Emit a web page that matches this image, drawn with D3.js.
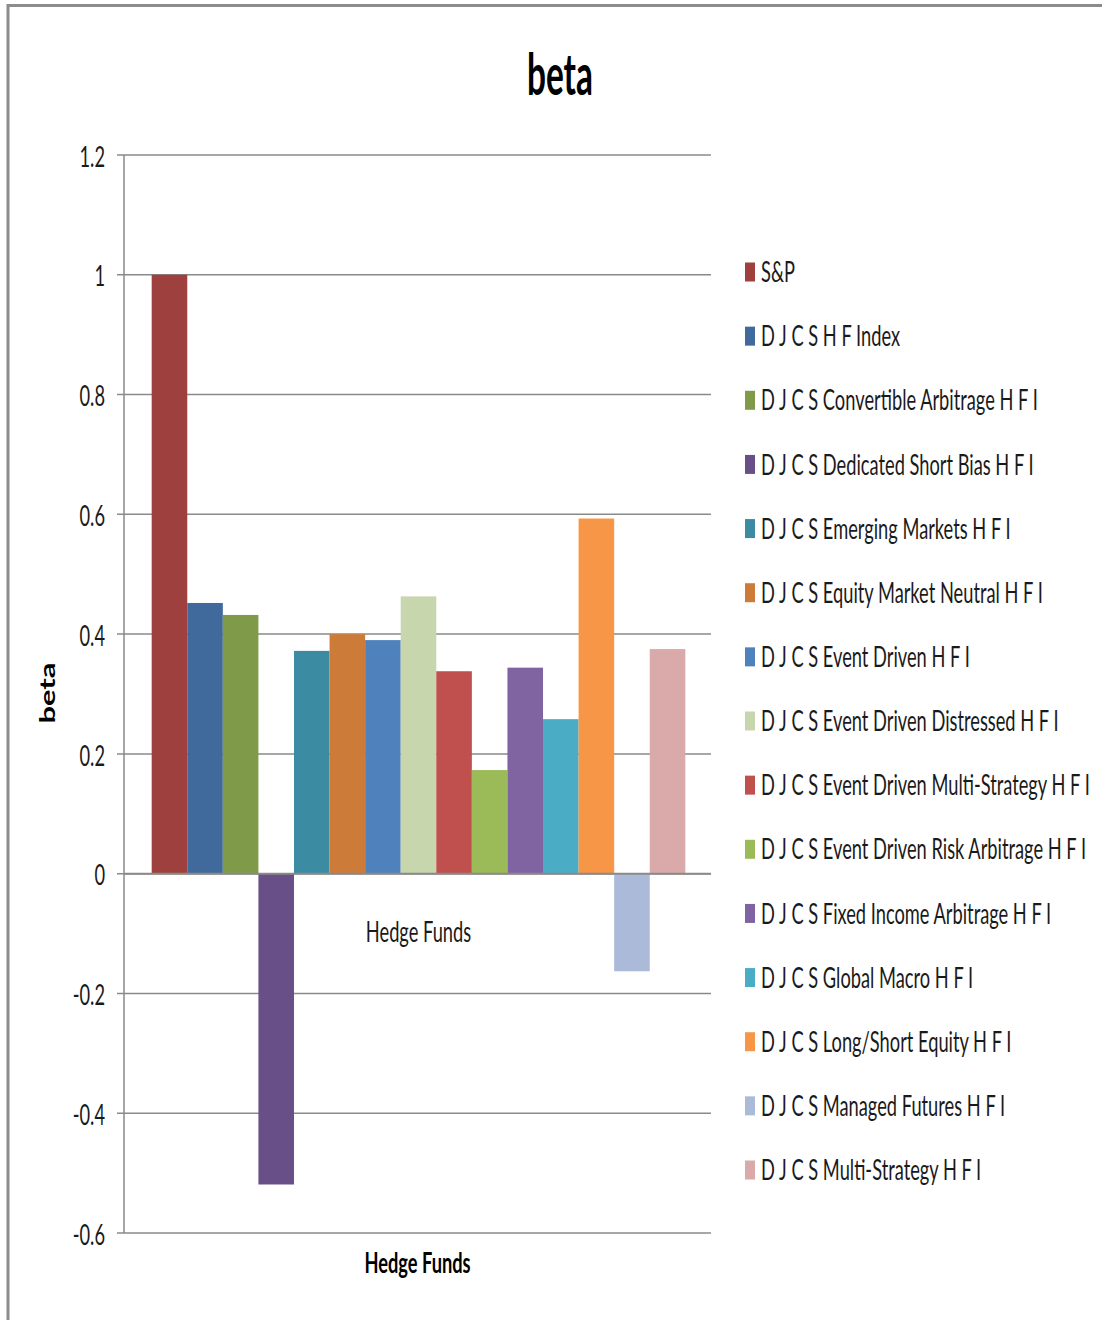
<!DOCTYPE html>
<html><head><meta charset="utf-8">
<script src="https://cdn.jsdelivr.net/npm/d3@7"></script>
<style>body{margin:0;background:#fff}svg{display:block}</style>
</head><body>
<svg id="c" width="1102" height="1320"></svg>
<script>
const chartTitle = "beta";
const yTitle = "beta";
const xTitle = "Hedge Funds";
const categories = ["Hedge Funds"];
const series = [
  "S&P",
  "D J C S H F Index",
  "D J C S Convertible Arbitrage H F I",
  "D J C S Dedicated Short Bias H F I",
  "D J C S Emerging Markets H F I",
  "D J C S Equity Market Neutral H F I",
  "D J C S Event Driven H F I",
  "D J C S Event Driven Distressed H F I",
  "D J C S Event Driven Multi-Strategy H F I",
  "D J C S Event Driven Risk Arbitrage H F I",
  "D J C S Fixed Income Arbitrage H F I",
  "D J C S Global Macro H F I",
  "D J C S Long/Short Equity H F I",
  "D J C S Managed Futures H F I",
  "D J C S Multi-Strategy H F I"
];
const values = [1.0, 0.452, 0.432, -0.519, 0.372, 0.400, 0.390, 0.463, 0.338, 0.173, 0.344, 0.258, 0.593, -0.163, 0.375];
const colors = ["#9E403D","#406A9C","#7F9A48","#694F88","#3B8BA3","#CC7B38","#4F81BD","#C7D6AC","#C0504D","#9BBB59","#8064A2","#4BACC6","#F79646","#AABAD8","#DAA9A9"];
const tickValues = [-0.6,-0.4,-0.2,0,0.2,0.4,0.6,0.8,1,1.2];
const tickLabels = ["-0.6","-0.4","-0.2","0","0.2","0.4","0.6","0.8","1","1.2"];

const svg = d3.select("#c");
const FONT = "Lato, 'Open Sans', sans-serif";
const TXT = "#1a1a1a";
const GRID = "#8a8a8a";

// chart border
svg.append("path").attr("d","M8,1320 V5.5 H1102").attr("fill","none").attr("stroke","#8c8c8c").attr("stroke-width",3);

const plot = {left:124, right:711, top:155, bottom:1233};
const y = d3.scaleLinear().domain([-0.6,1.2]).range([plot.bottom, plot.top]);
const x0 = d3.scaleBand().domain(categories).range([plot.left + 1, plot.right + 1]).padding(0);
const x1 = d3.scaleBand().domain(series).range([0, x0.bandwidth()]).paddingInner(0).paddingOuter(0.75);

// gridlines
svg.append("g").selectAll("line").data(tickValues).join("line")
  .attr("x1", plot.left-7).attr("x2", plot.right)
  .attr("y1", d=>y(d)).attr("y2", d=>y(d))
  .attr("stroke", GRID).attr("stroke-width",1.5);

// bars
const g = svg.append("g");
categories.forEach(cat=>{
  g.selectAll("rect.b").data(series).join("rect").attr("class","b")
    .attr("x", s=>x0(cat)+x1(s))
    .attr("width", x1.bandwidth())
    .attr("y", (s,i)=>Math.min(y(values[i]), y(0)))
    .attr("height", (s,i)=>Math.abs(y(values[i])-y(0)))
    .attr("fill", (s,i)=>colors[i]);
});

// axes lines
svg.append("line").attr("x1",plot.left).attr("x2",plot.left).attr("y1",plot.top).attr("y2",plot.bottom).attr("stroke",GRID).attr("stroke-width",1.5);
svg.append("line").attr("x1",plot.left).attr("x2",plot.right).attr("y1",y(0)).attr("y2",y(0)).attr("stroke",GRID).attr("stroke-width",2);

// legend
const ly = d3.scalePoint().domain(series).range([272, 1170]);
const leg = svg.append("g");
leg.selectAll("rect").data(series).join("rect")
  .attr("x",745).attr("y",s=>ly(s)-9.5).attr("width",10).attr("height",19)
  .attr("fill",(s,i)=>colors[i]);
const legText = leg.selectAll("text").data(series).join("text")
  .attr("font-family",FONT).attr("font-size",28).attr("fill",TXT)
  .attr("dominant-baseline","central")
  .text(s=>s);
let maxW = 0;
legText.each(function(){ maxW = Math.max(maxW, this.getComputedTextLength()); });
const sx = 329 / maxW;
legText.attr("transform", s=>`translate(761,${ly(s)-0.5}) scale(${sx},1)`);

// y tick labels
svg.append("g").selectAll("text").data(tickValues).join("text")
  .attr("font-family",FONT).attr("font-size",28).attr("fill",TXT)
  .attr("text-anchor","end").attr("dominant-baseline","central")
  .attr("transform", d=>`translate(105,${y(d)+1}) scale(${sx},1)`)
  .text((d,i)=>tickLabels[i]);

// category label
svg.append("g").selectAll("text").data(categories).join("text")
  .attr("font-family",FONT).attr("font-size",28).attr("fill",TXT)
  .attr("text-anchor","middle").attr("dominant-baseline","central")
  .attr("transform", d=>`translate(${x0(d)+x0.bandwidth()/2},${y(0)+58}) scale(${sx},1)`)
  .text(d=>d);

// x title
svg.append("text").attr("font-family",FONT).attr("font-size",28).attr("font-weight","bold").attr("fill","#000")
  .attr("text-anchor","middle").attr("dominant-baseline","central")
  .attr("transform", `translate(${(plot.left+plot.right)/2},1262) scale(${sx},1)`)
  .text(xTitle);

// chart title
const t = svg.append("text").attr("font-family",FONT).attr("font-size",58).attr("font-weight","bold").attr("fill","#000")
  .attr("text-anchor","middle").text(chartTitle);
const tsx = 66 / t.node().getComputedTextLength();
t.attr("transform", `translate(560,95) scale(${tsx},1)`);

// y title
const yt = svg.append("text").attr("font-family",FONT).attr("font-size",26).attr("font-weight","bold").attr("fill","#000")
  .attr("text-anchor","middle").attr("dominant-baseline","central").text(yTitle);
const ylen = yt.node().getComputedTextLength();
const yfs = 26 * 61 / ylen;
yt.attr("font-size", yfs).attr("transform", `translate(47,693) rotate(-90) scale(1,${sx})`);
</script>
</body></html>
